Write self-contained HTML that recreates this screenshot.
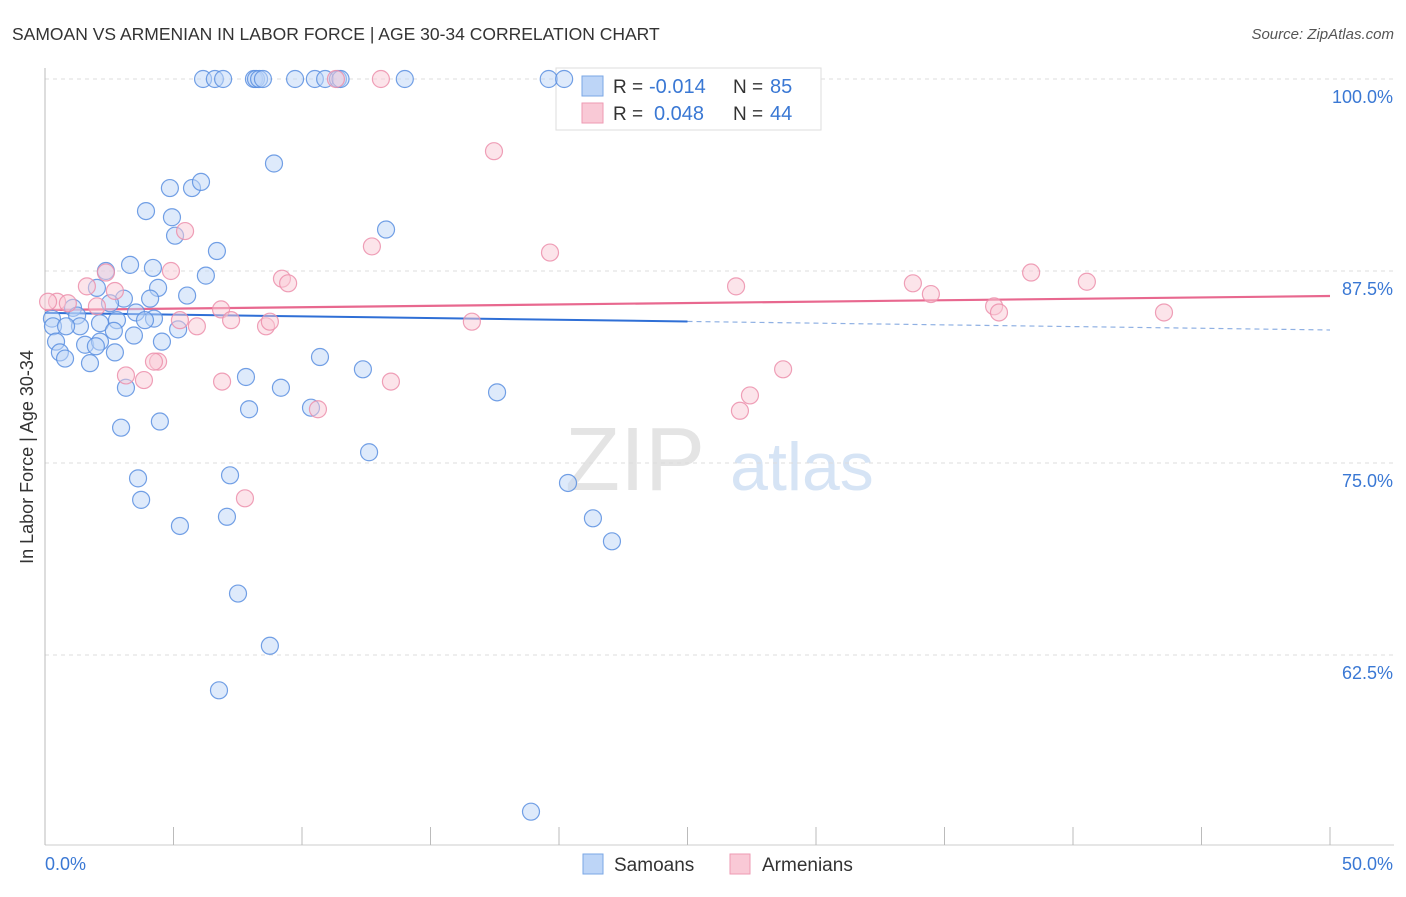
<!DOCTYPE html>
<html><head><meta charset="utf-8"><style>
body{margin:0;background:#fff;font-family:"Liberation Sans",sans-serif;}
svg text{font-family:"Liberation Sans",sans-serif;}
</style></head><body>
<svg id="chart" width="1406" height="892">
<text x="12" y="40" font-size="17.5" fill="#333">SAMOAN VS ARMENIAN IN LABOR FORCE | AGE 30-34 CORRELATION CHART</text>
<text x="1394" y="39" font-size="15" fill="#555" font-style="italic" text-anchor="end">Source: ZipAtlas.com</text>
<text x="33" y="457" font-size="18" fill="#333" text-anchor="middle" transform="rotate(-90 33 457)">In Labor Force | Age 30-34</text>
<text x="635" y="490" font-size="90" fill="#e4e4e4" font-family="Liberation Serif" text-anchor="middle">ZIP</text>
<text x="802" y="490" font-size="68" fill="#d6e4f5" text-anchor="middle">atlas</text>
<g id="grid"></g><g id="axes"></g>
<g>
<rect x="556" y="68" width="265" height="62" fill="#fff" stroke="#ddd"/>
<rect x="582" y="76" width="21" height="20" fill="#bdd5f7" stroke="#7aa7e6"/>
<rect x="582" y="103" width="21" height="20" fill="#f9c9d6" stroke="#ee9ab3"/>
<text x="613" y="93" font-size="19" fill="#333">R =</text>
<text x="649" y="93" font-size="20" fill="#3a78d4">-0.014</text>
<text x="733" y="93" font-size="19" fill="#333">N =</text>
<text x="770" y="93" font-size="20" fill="#3a78d4">85</text>
<text x="613" y="120" font-size="19" fill="#333">R =</text>
<text x="654" y="120" font-size="20" fill="#3a78d4">0.048</text>
<text x="733" y="120" font-size="19" fill="#333">N =</text>
<text x="770" y="120" font-size="20" fill="#3a78d4">44</text>
</g>
<g id="trend"></g><g id="pts"></g>
<g>
<rect x="583" y="854" width="20" height="20" fill="#bdd5f7" stroke="#7aa7e6"/>
<text x="614" y="871" font-size="19" fill="#333">Samoans</text>
<rect x="730" y="854" width="20" height="20" fill="#f9c9d6" stroke="#ee9ab3"/>
<text x="762" y="871" font-size="19" fill="#333">Armenians</text>
</g>
</svg>
<script>
const yTicks=[100,87.5,75,62.5];
const yTickLabels=["100.0%","87.5%","75.0%","62.5%"];
const xTicks=[0,5,10,15,20,25,30,35,40,45,50];
const blueX=[6.15,6.61,6.93,8.13,8.21,8.33,8.48,9.73,10.5,10.9,11.4,11.5,14.0,19.6,20.2,8.91,4.86,5.72,6.07,3.93,4.94,5.06,6.69,13.27,3.31,4.2,2.37,6.26,4.4,2.02,5.53,3.07,4.09,2.53,1.09,3.54,0.27,1.25,2.14,2.8,4.24,3.89,5.18,0.31,1.36,0.82,3.46,2.68,4.55,0.43,1.56,2.14,1.98,0.58,2.72,0.78,1.75,10.7,12.37,7.82,9.18,3.15,17.59,7.94,10.35,4.47,2.96,12.61,7.2,3.62,20.35,3.74,7.08,5.25,21.32,22.06,7.51,8.75,6.77,18.91];
const blueY=[100,100,100,100,100,100,100,100,100,100,100,100,100,100,100,94.5,92.9,92.9,93.3,91.4,91.0,89.8,88.8,90.2,87.9,87.7,87.5,87.2,86.4,86.4,85.9,85.7,85.7,85.4,85.1,84.8,84.4,84.6,84.1,84.3,84.4,84.3,83.7,83.9,83.9,83.9,83.3,83.6,82.9,82.9,82.7,82.9,82.6,82.2,82.2,81.8,81.5,81.9,81.1,80.6,79.9,79.9,79.6,78.5,78.6,77.7,77.3,75.7,74.2,74.0,73.7,72.6,71.5,70.9,71.4,69.9,66.5,63.1,60.2,52.3];
const pinkX=[11.32,13.07,17.47,12.72,19.65,5.45,2.37,4.9,9.22,9.46,1.63,2.72,0.47,0.12,0.89,2.02,6.85,7.24,5.91,5.25,8.6,8.75,16.61,26.89,33.77,34.47,38.37,40.54,36.93,37.12,43.54,4.4,4.24,3.15,3.85,6.89,13.46,28.72,27.43,27.04,10.62,7.78];
const pinkY=[100,100,95.3,89.1,88.7,90.1,87.4,87.5,87.0,86.7,86.5,86.2,85.5,85.5,85.4,85.2,85.0,84.3,83.9,84.3,83.9,84.2,84.2,86.5,86.7,86.0,87.4,86.8,85.2,84.8,84.8,81.6,81.6,80.7,80.4,80.3,80.3,81.1,79.4,78.4,78.5,72.7];
const blueTrend=[84.77,83.66];
const pinkTrend=[84.96,85.87];
const NS="http://www.w3.org/2000/svg";
const X0=45,X1=1330,Y0=79,YB=845;
function xs(v){return X0+(X1-X0)*v/50;}
function ys(v){return Y0+(100-v)*15.36;}
function mk(tag,attrs,parent){const e=document.createElementNS(NS,tag);for(const k in attrs)e.setAttribute(k,attrs[k]);parent.appendChild(e);return e;}
const grid=document.getElementById('grid'),axes=document.getElementById('axes'),trend=document.getElementById('trend'),pts=document.getElementById('pts');
yTicks.forEach((t,i)=>{
 const l=mk('line',{x1:X0,x2:1394,y1:ys(t),y2:ys(t),stroke:'#ddd','stroke-dasharray':'4,4'},grid);
 
 
 const tx=mk('text',{x:1393,y:ys(t)+24,'font-size':18,fill:'#3a78d4','text-anchor':'end'},grid);
 tx.textContent=yTickLabels[i];
 
 
});
const ax=mk('line',{x1:X0,x2:X0,y1:68,y2:YB,stroke:'#bbb'},axes);


const bx=mk('line',{x1:X0,x2:1394,y1:YB,y2:YB,stroke:'#ccc'},axes);


xTicks.forEach(t=>{
 const l=mk('line',{x1:xs(t),x2:xs(t),y1:827,y2:YB,stroke:'#bbb'},axes);
 
 
});
const xl0=mk('text',{x:45,y:870,'font-size':18,fill:'#3a78d4'},axes);xl0.textContent='0.0%';


const xl1=mk('text',{x:1393,y:870,'font-size':18,fill:'#3a78d4','text-anchor':'end'},axes);xl1.textContent='50.0%';


function dot(x,y,fill,stroke,name){
 const c=mk('circle',{cx:xs(x),cy:ys(y),r:8.5,fill:fill,'fill-opacity':0.5,stroke:stroke,'stroke-opacity':0.85,'stroke-width':1.2},pts);
 
 
}
blueX.forEach((x,i)=>dot(x,blueY[i],'#bdd5f7','#5b8fe0','samoan-point'));
pinkX.forEach((x,i)=>dot(x,pinkY[i],'#f9c9d6','#ec8fab','armenian-point'));
const bm=blueTrend[0]+(blueTrend[1]-blueTrend[0])*25/50;
const b1=mk('line',{x1:xs(0),y1:ys(blueTrend[0]),x2:xs(25),y2:ys(bm),stroke:'#2f6fd6','stroke-width':2},trend);


const b2=mk('line',{x1:xs(25),y1:ys(bm),x2:xs(50),y2:ys(blueTrend[1]),stroke:'#8fb0e3','stroke-width':1.2,'stroke-dasharray':'5,4'},trend);


const p1=mk('line',{x1:xs(0),y1:ys(pinkTrend[0]),x2:xs(50),y2:ys(pinkTrend[1]),stroke:'#e8688f','stroke-width':2.2},trend);


</script>
</body></html>
